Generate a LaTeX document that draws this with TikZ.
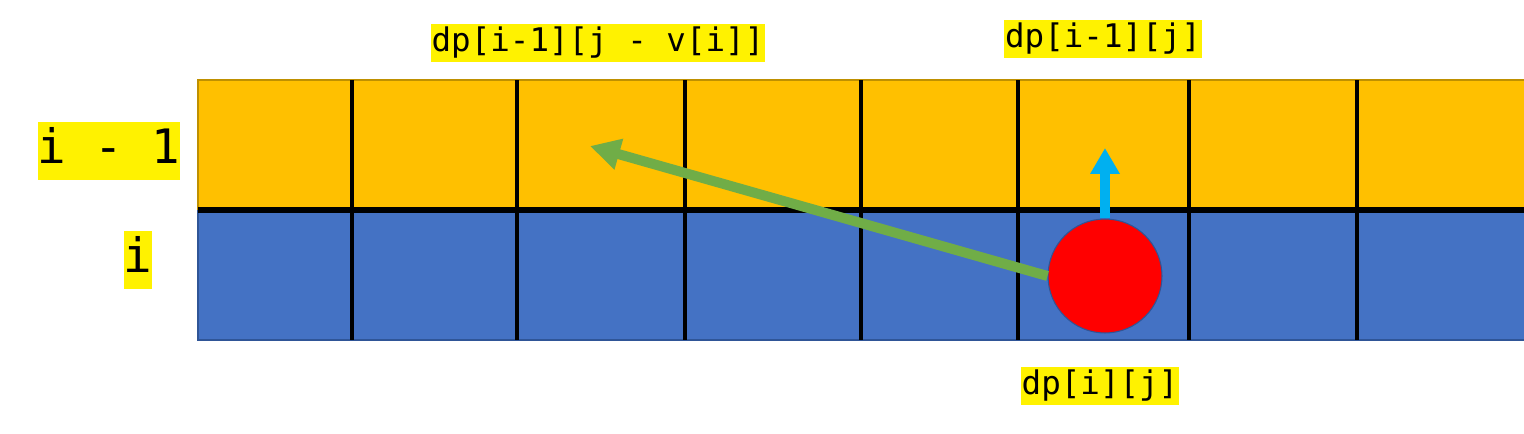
\documentclass[tikz,border=0pt]{standalone}
\usepackage{fontspec}
\setmonofont{DejaVu Sans Mono}
\usetikzlibrary{arrows.meta, positioning}
\definecolor{rowgold}{HTML}{FFC000}
\definecolor{goldedge}{HTML}{BF9000}
\definecolor{rowblue}{HTML}{4472C4}
\definecolor{blueedge}{HTML}{2F5597}
\definecolor{skyarrow}{HTML}{00B0F0}
\definecolor{leafarrow}{HTML}{70AD47}
\tikzset{
  cell line/.style={
    black,
    line width=0.09cm
  },
  mid line/.style={
    black,
    line width=0.11cm
  },
  dp label/.style={
    fill=yellow,
    text=black,
    inner xsep=0.5pt,
    inner ysep=2pt,
    text height=14pt,
    text depth=4pt,
    font=\ttfamily\fontsize{18.5}{18.5}\selectfont
  },
  row label/.style={
    fill=yellow,
    text=black,
    inner xsep=0pt,
    inner ysep=4pt,
    text height=20pt,
    text depth=5.5pt,
    font=\ttfamily\fontsize{27}{27}\selectfont
  },
  current dot/.style={
    circle,
    fill=red,
    draw=blueedge,
    line width=0.6pt,
    minimum size=2.28cm,
    inner sep=0pt
  },
  up arrow/.style={
    -{Triangle[length=0.52cm, width=0.56cm]},
    line width=0.19cm,
    color=skyarrow
  },
  back arrow/.style={
    -{Triangle[length=0.6cm, width=0.6cm]},
    line width=0.2cm,
    color=leafarrow
  }
}

\begin{document}
\begin{tikzpicture}[x=0.02cm, y=-0.02cm]
    % one unit = one pixel of the sketch, y runs downwards
    \useasboundingbox (0,0) rectangle (1524,433);

    % two rows of the dp table
    \fill[rowgold] (198,80) rectangle (1524,210);
    \fill[rowblue] (198,210) rectangle (1524,340);
    \draw[goldedge, line width=0.8pt] (198,210) -- (198,80) -- (1524,80);
    \draw[blueedge, line width=1.2pt] (198,210) -- (198,340) -- (1524,340);

    % cell borders
    \foreach \x in {352, 517, 685, 861, 1018, 1189, 1357} {
      \draw[cell line] (\x,80) -- (\x,340);
    }
    \draw[mid line] (198,210) -- (1524,210);

    % row names
    \node[row label] (rowprev) at (109,151) {i - 1};
    \node[row label] (rowcur) at (138,260) {i};

    % the current state and where it comes from
    \node[current dot] (cur) at (1105,276) {};
    \coordinate (fromup) at (1105,148);
    \coordinate (fromleft) at (590,146);

    \draw[up arrow] (cur.north) -- (fromup);
    \draw[back arrow] (cur.west) -- (fromleft);

    % labels of the three states
    \node[dp label] (lblshift) at (598,43) {dp[i-1][j - v[i]]};
    \node[dp label] (lblup) at (1103,39) {dp[i-1][j]};
    \node[dp label] (lblcur) at (1100,386) {dp[i][j]};

\end{tikzpicture}
\end{document}
